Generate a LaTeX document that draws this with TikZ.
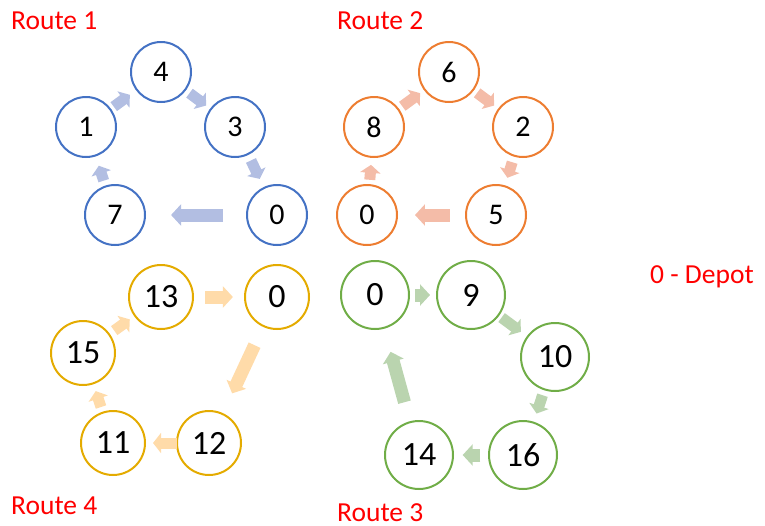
\documentclass[tikz,border=0pt]{standalone}
\usepackage{fontspec}
\setmainfont{Carlito}
\usetikzlibrary{arrows.meta,calc}
\definecolor{cblue}{RGB}{68,114,196}
\definecolor{ablue}{RGB}{178,190,226}
\definecolor{corange}{RGB}{237,125,49}
\definecolor{aorange}{RGB}{244,188,168}
\definecolor{cyellow}{RGB}{228,171,0}
\definecolor{ayellow}{RGB}{255,219,169}
\definecolor{cgreen}{RGB}{112,173,71}
\definecolor{agreen}{RGB}{186,212,175}
\definecolor{lblred}{RGB}{255,0,0}
\begin{document}
\begin{tikzpicture}[x=1pt,y=-1pt,
  circ/.style={circle, line width=2pt, inner sep=0pt, text=black},
  smallc/.style={circ, minimum size=60pt, font=\fontsize{30}{32}\selectfont},
  bigc/.style={circ, minimum size=64pt, font=\fontsize{34}{36}\selectfont},
  greenc/.style={circ, minimum size=68pt, font=\fontsize{34}{36}\selectfont},
  sarr/.style={line width=11pt, -{Triangle[width=20pt,length=8pt]}},
  barr/.style={line width=13pt, -{Triangle[width=21pt,length=10pt]}},
  lbl/.style={text=lblred, font=\fontsize{27.5}{29}\selectfont, anchor=base west, inner sep=0pt}
]
\useasboundingbox (0,0) rectangle (765,525);

% Route 1 (blue)
\node[smallc, draw=cblue] (b4) at (161,72) {4};
\node[smallc, draw=cblue] (b1) at (86,127) {1};
\node[smallc, draw=cblue] (b3) at (235,127) {3};
\node[smallc, draw=cblue] (b7) at (115,215) {7};
\node[smallc, draw=cblue] (b0) at (277,215) {0};
\draw[sarr, ablue] ($(b7.center)!0.39!(b1.center)$) -- ($(b7.center)!0.56!(b1.center)$);
\draw[sarr, ablue] ($(b1.center)!0.37!(b4.center)$) -- ($(b1.center)!0.585!(b4.center)$);
\draw[sarr, ablue] ($(b4.center)!0.385!(b3.center)$) -- ($(b4.center)!0.61!(b3.center)$);
\draw[sarr, ablue] ($(b3.center)!0.38!(b0.center)$) -- ($(b3.center)!0.59!(b0.center)$);
\draw[barr, ablue] ($(b0.center)!0.333!(b7.center)$) -- ($(b0.center)!0.654!(b7.center)$);

% Route 2 (orange)
\node[smallc, draw=corange] (o6) at (449,72) {6};
\node[smallc, draw=corange] (o8) at (374,127) {8};
\node[smallc, draw=corange] (o2) at (523,127) {2};
\node[smallc, draw=corange] (o0) at (367,215) {0};
\node[smallc, draw=corange] (o5) at (496,215) {5};
\draw[sarr, aorange] ($(o0.center)!0.40!(o8.center)$) -- ($(o0.center)!0.57!(o8.center)$);
\draw[sarr, aorange] ($(o8.center)!0.377!(o6.center)$) -- ($(o8.center)!0.615!(o6.center)$);
\draw[sarr, aorange] ($(o6.center)!0.38!(o2.center)$) -- ($(o6.center)!0.61!(o2.center)$);
\draw[sarr, aorange] ($(o2.center)!0.40!(o5.center)$) -- ($(o2.center)!0.577!(o5.center)$);
\draw[barr, aorange] ($(o5.center)!0.357!(o0.center)$) -- ($(o5.center)!0.628!(o0.center)$);

% Route 4 (yellow)
\node[bigc, draw=cyellow] (y13) at (161,297) {13};
\node[bigc, draw=cyellow] (y0) at (277,297) {0};
\node[bigc, draw=cyellow] (y15) at (83,353) {15};
\node[bigc, draw=cyellow] (y11) at (113,443) {11};
\node[bigc, draw=cyellow] (y12) at (209,443) {12};
\draw[barr, ayellow] ($(y13.center)!0.38!(y0.center)$) -- ($(y13.center)!0.62!(y0.center)$);
\draw[barr, ayellow] ($(y0.center)!0.33!(y12.center)$) -- ($(y0.center)!0.66!(y12.center)$);
\draw[sarr, ayellow] ($(y12.center)!0.333!(y11.center)$) -- ($(y12.center)!0.583!(y11.center)$);
\draw[sarr, ayellow] ($(y11.center)!0.40!(y15.center)$) -- ($(y11.center)!0.577!(y15.center)$);
\draw[sarr, ayellow] ($(y15.center)!0.40!(y13.center)$) -- ($(y15.center)!0.60!(y13.center)$);

% Route 3 (green)
\node[greenc, draw=cgreen] (g0) at (375,295) {0};
\node[greenc, draw=cgreen] (g9) at (471,295) {9};
\node[greenc, draw=cgreen] (g10) at (555,357) {10};
\node[greenc, draw=cgreen] (g16) at (523,455) {16};
\node[greenc, draw=cgreen] (g14) at (419,455) {14};
\draw[barr, agreen] ($(g0.center)!0.417!(g9.center)$) -- ($(g0.center)!0.573!(g9.center)$);
\draw[sarr, agreen] ($(g9.center)!0.364!(g10.center)$) -- ($(g9.center)!0.594!(g10.center)$);
\draw[sarr, agreen] ($(g10.center)!0.39!(g16.center)$) -- ($(g10.center)!0.577!(g16.center)$);
\draw[barr, agreen] ($(g16.center)!0.41!(g14.center)$) -- ($(g16.center)!0.58!(g14.center)$);
\draw[barr, agreen] ($(g14.center)!0.33!(g0.center)$) -- ($(g14.center)!0.645!(g0.center)$);

% Labels
\node[lbl] (r1) at (11,29) {Route 1};
\node[lbl] (r2) at (337,29) {Route 2};
\node[lbl] (r4) at (11,514) {Route 4};
\node[lbl] (r3) at (337,521) {Route 3};
\node[lbl] (dep) at (650,283) {0 - Depot};
\end{tikzpicture}
\end{document}
